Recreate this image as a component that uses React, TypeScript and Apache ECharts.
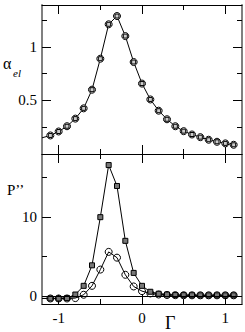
import React, { useEffect, useRef } from "react";
import * as echarts from "echarts";

// Gamma values (x)
const gammaValues = [-1.2, -1.1, -1.0, -0.9, -0.8, -0.7, -0.6, -0.5, -0.4, -0.3, -0.2, -0.1, 0.0, 0.1, 0.2, 0.3, 0.4, 0.5, 0.6, 0.7, 0.8, 0.9, 1.0, 1.1];
// top panel alpha_el
const alphaEl = [0.151, 0.173, 0.21, 0.259, 0.33, 0.426, 0.6, 0.889, 1.21, 1.287, 1.1, 0.858, 0.657, 0.509, 0.404, 0.324, 0.259, 0.213, 0.182, 0.157, 0.133, 0.114, 0.099, 0.086];
// bottom panel P'' (squares)
const pSquares = [-0.3, -0.29, -0.3, -0.25, 0.2, 1.3, 3.9, 10.0, 16.6, 13.95, 7.0, 2.94, 1.3, 0.55, 0.3, 0.2, 0.13, 0.12, 0.11, 0.1, 0.1, 0.1, 0.1, 0.1];
// bottom panel P'' (circles)
const pCircles = [-0.3, -0.3, -0.3, -0.3, -0.25, 0.17, 1.3, 3.36, 5.6, 4.87, 2.7, 1.22, 0.63, 0.34, 0.2, 0.14, 0.12, 0.11, 0.1, 0.1, 0.1, 0.1, 0.1, 0.1];

const xMajor = [-1, 0, 1];
const xMinor = [-0.5, 0.5];
const xLabels = [-1, 0, 1];
const alphaMajor = [0.5, 1];
const alphaMinor = [0.25, 0.75, 1.25];
const pMajor = [0, 10];
const pMinor = [5, 15];

const FONT = "Liberation Serif";

function makeData(vals: number[]) {
  return gammaValues.map((x, i) =>
    i === 0 ? { value: [x, vals[i]], symbol: "none" } : [x, vals[i]]
  );
}

function xAxes(gridIndex: number, bottomLabels: boolean) {
  const base = {
    type: "value",
    gridIndex,
    min: -1.2,
    max: 1.2,
    splitLine: { show: false },
  };
  const tickStyle = { color: "#000", width: 1 };
  return [
    {
      ...base,
      position: "bottom",
      axisLine: { show: true, onZero: false, lineStyle: { color: "#000", width: 1 } },
      axisTick: { show: true, inside: true, length: 9, customValues: xMajor, lineStyle: tickStyle },
      axisLabel: bottomLabels
        ? { show: true, customValues: xLabels, margin: 6, color: "#000", fontFamily: FONT, fontSize: 15 }
        : { show: false },
    },
    {
      ...base,
      position: "bottom",
      axisLine: { show: false, onZero: false },
      axisTick: { show: true, inside: true, length: 5, customValues: xMinor, lineStyle: tickStyle },
      axisLabel: { show: false },
    },
    {
      ...base,
      position: "top",
      axisLine: { show: true, onZero: false, lineStyle: { color: "#000", width: 1 } },
      axisTick: { show: true, inside: true, length: 9, customValues: xMajor, lineStyle: tickStyle },
      axisLabel: { show: false },
    },
    {
      ...base,
      position: "top",
      axisLine: { show: false, onZero: false },
      axisTick: { show: true, inside: true, length: 5, customValues: xMinor, lineStyle: tickStyle },
      axisLabel: { show: false },
    },
  ];
}

function yAxes(gridIndex: number, min: number, max: number, major: number[], minor: number[]) {
  const base = { type: "value", gridIndex, min, max, splitLine: { show: false } };
  const tickStyle = { color: "#000", width: 1 };
  const sideLine = { show: true, onZero: false, lineStyle: { color: "#808080", width: 2 } };
  return [
    {
      ...base,
      position: "left",
      axisLine: sideLine,
      axisTick: { show: true, inside: true, length: 9, customValues: major, lineStyle: tickStyle },
      axisLabel: { show: true, customValues: major, margin: 5, color: "#000", fontFamily: FONT, fontSize: 15 },
    },
    {
      ...base,
      position: "left",
      axisLine: { show: false, onZero: false },
      axisTick: { show: true, inside: true, length: 5, customValues: minor, lineStyle: tickStyle },
      axisLabel: { show: false },
    },
    {
      ...base,
      position: "right",
      axisLine: sideLine,
      axisTick: { show: true, inside: true, length: 9, customValues: major, lineStyle: tickStyle },
      axisLabel: { show: false },
    },
    {
      ...base,
      position: "right",
      axisLine: { show: false, onZero: false },
      axisTick: { show: true, inside: true, length: 5, customValues: minor, lineStyle: tickStyle },
      axisLabel: { show: false },
    },
  ];
}

export default function App() {
  const ref = useRef<HTMLDivElement>(null);
  useEffect(() => {
    if (!ref.current) return;
    const chart = echarts.init(ref.current, undefined, { renderer: "svg" });
    const lineStyle = { color: "#000", width: 1 };
    const option = {
      animation: false,
      backgroundColor: "#fff",
      textStyle: { fontFamily: FONT },
      grid: [
        { left: 42, top: 5, width: 200, height: 149 },
        { left: 42, top: 154, width: 200, height: 150 },
      ],
      xAxis: [...xAxes(0, false), ...xAxes(1, true)],
      yAxis: [
        ...yAxes(0, 0, 1.39, alphaMajor, alphaMinor),
        ...yAxes(1, -1, 18, pMajor, pMinor),
      ],
      series: [
        {
          type: "line",
          xAxisIndex: 0,
          yAxisIndex: 0,
          data: makeData(alphaEl),
          symbol: "circle",
          symbolSize: 7,
          lineStyle,
          itemStyle: { color: "#fff", borderColor: "#000", borderWidth: 1 },
          z: 2,
        },
        {
          type: "line",
          xAxisIndex: 0,
          yAxisIndex: 0,
          data: makeData(alphaEl),
          symbol: "rect",
          symbolSize: 4,
          lineStyle: { width: 0, opacity: 0 },
          itemStyle: { color: "#ccc", borderColor: "#000", borderWidth: 1 },
          z: 3,
        },
        {
          type: "line",
          xAxisIndex: 4,
          yAxisIndex: 4,
          data: makeData(pCircles),
          symbol: "circle",
          symbolSize: 7,
          lineStyle,
          itemStyle: { color: "rgba(255,255,255,0)", borderColor: "#000", borderWidth: 1 },
          z: 2,
        },
        {
          type: "line",
          xAxisIndex: 4,
          yAxisIndex: 4,
          data: makeData(pSquares),
          symbol: "rect",
          symbolSize: 5,
          lineStyle,
          itemStyle: { color: "#777", borderColor: "#000", borderWidth: 1 },
          z: 3,
          markLine: {
            silent: true,
            symbol: "none",
            label: { show: false },
            lineStyle: { color: "#000", type: "solid", width: 1 },
            data: [{ yAxis: 0 }],
          },
        },
      ],
      graphic: [
        {
          type: "text",
          x: 3,
          y: 63,
          style: { text: "α", fontFamily: FONT, fontSize: 16, fill: "#000", textVerticalAlign: "middle" },
        },
        {
          type: "text",
          x: 13,
          y: 73,
          style: { text: "el", fontFamily: FONT, fontStyle: "italic", fontSize: 11, fill: "#000", textVerticalAlign: "middle" },
        },
        {
          type: "text",
          x: 7,
          y: 190,
          style: { text: "P’’", fontFamily: FONT, fontSize: 15, fill: "#000", textVerticalAlign: "middle" },
        },
        {
          type: "text",
          x: 165,
          y: 323,
          style: { text: "Γ", fontFamily: FONT, fontSize: 18, fill: "#000", textVerticalAlign: "middle" },
        },
      ],
    };
    chart.setOption(option as any);
    return () => chart.dispose();
  }, []);
  return (
    <div
      ref={ref}
      style={{ position: "absolute", left: 0, top: 0, width: 245, height: 332 }}
    />
  );
}
